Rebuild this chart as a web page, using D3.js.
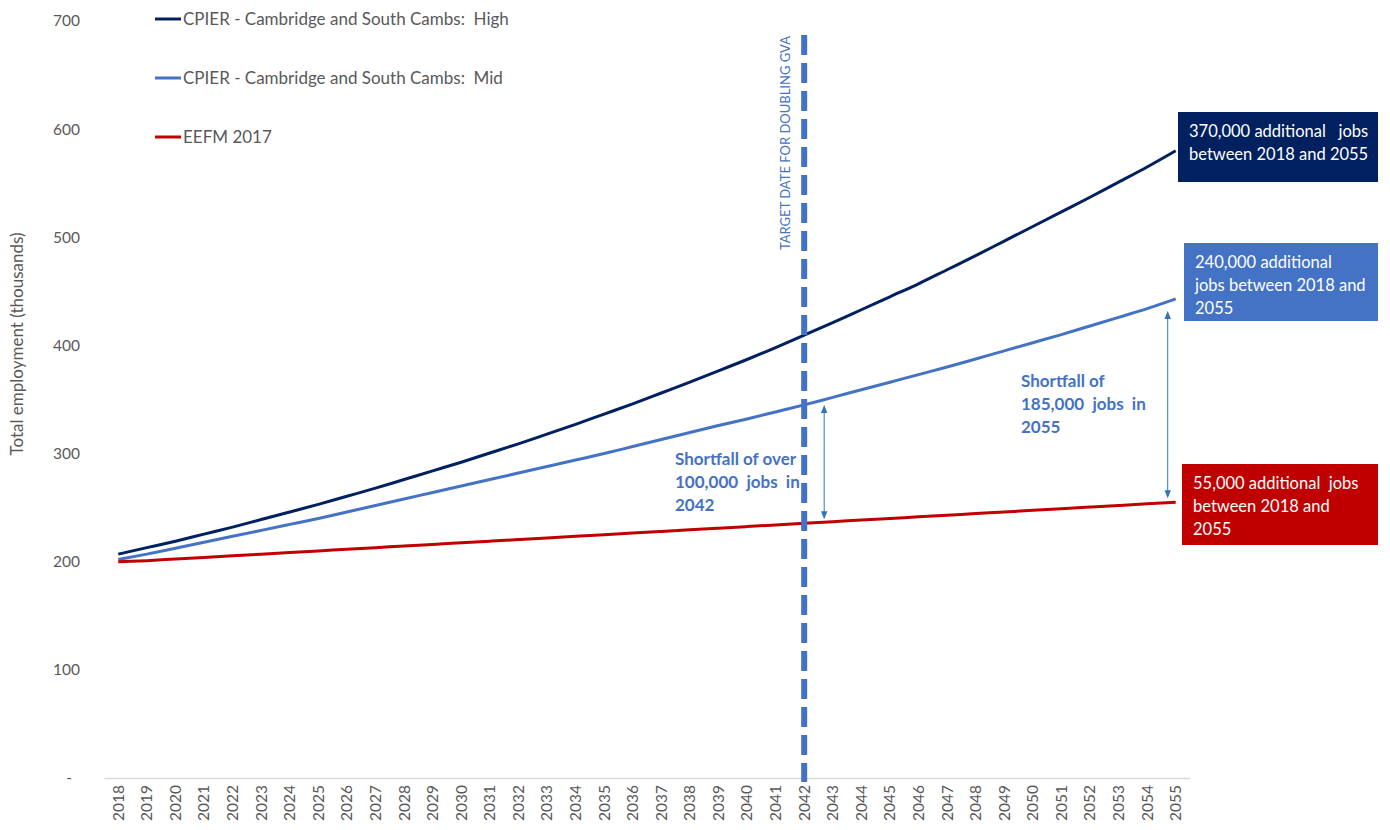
<!DOCTYPE html>
<html>
<head>
<meta charset="utf-8">
<script src="https://cdn.jsdelivr.net/npm/d3@7"></script>
<style>
  body { margin: 0; background: #fff; }
  svg { font-family: Lato, "Open Sans", sans-serif; }
</style>
</head>
<body>
<svg id="chart"></svg>
<script>
const years = d3.range(2018, 2056);
const highValues = [207, 213, 219, 225.5, 232, 239, 246, 253, 260.5, 268, 276, 284, 292, 300.5, 309, 318, 327, 336.5, 346, 356,
    366, 376.5, 387, 398, 409.5, 421, 433, 445, 457, 470, 483, 496.5, 510, 523.5, 537, 551, 565, 580];
const midValues = [202, 207, 212.5, 218, 223.5, 229, 234.5, 240, 246, 252, 258, 264, 270, 276, 282, 288, 294, 300, 306.5, 313,
    319.5, 326, 332, 338.5, 345, 352, 359, 366, 373, 380, 387.5, 395, 402.5, 410, 418, 426, 434, 443];
const eefmValues = [200, 201, 202.5, 204, 205.5, 207, 208.5, 210, 211.5, 213, 214.5, 216, 217.5, 219, 220.5, 222, 223.5, 225, 226.5, 228,
    229.5, 231, 232.5, 234, 235.5, 237, 238.5, 240, 241.5, 243, 244.5, 246, 247.5, 249, 250.5, 252, 253.5, 255];
const seriesNames = ['CPIER - Cambridge and South Cambs:  High', 'CPIER - Cambridge and South Cambs:  Mid', 'EEFM 2017'];
const yTicks = [0, 100, 200, 300, 400, 500, 600, 700];
const targetYear = 2042;
const boxTexts = [
    ['370,000 additional   jobs', 'between 2018 and 2055'],
    ['240,000 additional', 'jobs between 2018 and', '2055'],
    ['55,000 additional  jobs', 'between 2018 and', '2055']
];
const shortfallTexts = [
    ['Shortfall of over', '100,000  jobs  in', '2042'],
    ['Shortfall of', '185,000  jobs  in', '2055']
];

const colors = ['#002060', '#4472C4', '#C00000'];
const textGrey = '#595959';

const svg = d3.select('#chart')
    .attr('width', 1390)
    .attr('height', 830);

const x = d3.scaleBand().domain(years).range([104, 1190]);
const y = d3.scaleLinear().domain([0, 700]).range([778, 21]);
const cx = yr => x(yr) + x.bandwidth() / 2;

const defs = svg.append('defs');
defs.append('marker')
    .attr('id', 'arrowhead')
    .attr('viewBox', '0 0 10 10')
    .attr('refX', 5).attr('refY', 5)
    .attr('markerWidth', 8).attr('markerHeight', 8)
    .attr('orient', 'auto-start-reverse')
    .append('path')
    .attr('d', 'M0,1 L10,5 L0,9 Z')
    .attr('fill', '#2E75B6');

// y axis labels
svg.append('g')
    .selectAll('text')
    .data(yTicks)
    .enter().append('text')
    .attr('x', d => d === 0 ? 72 : 80)
    .attr('y', d => y(d))
    .attr('dy', '0.35em')
    .attr('text-anchor', 'end')
    .attr('font-size', 15.5)
    .attr('fill', textGrey)
    .text(d => d === 0 ? '-' : d);

svg.append('text')
    .text('Total employment (thousands)')
    .attr('transform', `translate(23, 344) rotate(-90)`)
    .attr('text-anchor', 'middle')
    .attr('font-size', 17)
    .attr('fill', textGrey);

// x axis
const xAxis = svg.append('g')
    .attr('transform', `translate(0, ${y(0)})`)
    .call(d3.axisBottom(x).tickSize(0).tickPadding(0));
xAxis.select('.domain').attr('stroke', '#d9d9d9').attr('stroke-width', 1.5);
xAxis.selectAll('text')
    .attr('transform', 'rotate(-90)')
    .attr('text-anchor', 'end')
    .attr('x', -7)
    .attr('y', 0)
    .attr('dy', '0.35em')
    .attr('font-size', 15.5)
    .attr('font-family', 'Lato, sans-serif')
    .attr('fill', textGrey);

// lines
const allSeries = [highValues, midValues, eefmValues];
const line = d3.line()
    .x((d, i) => cx(years[i]))
    .y(d => y(d))
    .curve(d3.curveMonotoneX);

svg.append('g')
    .selectAll('path')
    .data(allSeries)
    .enter().append('path')
    .attr('d', d => line(d))
    .attr('fill', 'none')
    .attr('stroke', (d, i) => colors[i])
    .attr('stroke-width', 3);

// target date dashed line
const tx = cx(targetYear);
svg.append('line')
    .attr('x1', tx).attr('x2', tx)
    .attr('y1', 35).attr('y2', y(0) + 4)
    .attr('stroke', '#4472C4')
    .attr('stroke-width', 6)
    .attr('stroke-dasharray', '20,8');

svg.append('text')
    .text('TARGET DATE FOR DOUBLING GVA')
    .attr('transform', `translate(${tx - 14}, 250) rotate(-90)`)
    .attr('font-size', 13)
    .attr('fill', '#4472C4');

// legend
const legend = svg.append('g')
    .selectAll('g')
    .data(seriesNames)
    .enter().append('g')
    .attr('transform', (d, i) => `translate(155, ${19 + i * 59})`);
legend.append('line')
    .attr('x1', 0).attr('x2', 26)
    .attr('stroke', (d, i) => colors[i])
    .attr('stroke-width', 3);
legend.append('text')
    .attr('x', 28)
    .attr('dy', '0.35em')
    .attr('font-size', 17)
    .attr('fill', textGrey)
    .style('white-space', 'pre')
    .text(d => d);

// shortfall arrows
const arrowYears = [targetYear, 2055];
const arrowOffsets = [20, -8];
arrowYears.forEach((yr, i) => {
    const k = years.indexOf(yr);
    const ax = cx(yr) + arrowOffsets[i];
    svg.append('line')
        .attr('x1', ax).attr('x2', ax)
        .attr('y1', y(midValues[k]) + 4 + (i === 1 ? 12 : 0))
        .attr('y2', y(eefmValues[k]) - 8)
        .attr('stroke', '#2E75B6')
        .attr('stroke-width', 1)
        .attr('marker-start', 'url(#arrowhead)')
        .attr('marker-end', 'url(#arrowhead)');
});

// shortfall texts
const shortfallPos = [[675, 459], [1021, 381]];
shortfallTexts.forEach((lines, i) => {
    const t = svg.append('text')
        .attr('x', shortfallPos[i][0])
        .attr('y', shortfallPos[i][1])
        .attr('font-size', 17)
        .attr('font-weight', 'bold')
        .attr('fill', '#4472C4')
        .style('white-space', 'pre');
    lines.forEach((l, j) => {
        t.append('tspan')
            .attr('x', shortfallPos[i][0])
            .attr('dy', j === 0 ? '0.35em' : 23)
            .text(l);
    });
});

// boxes
const boxes = [
    {x: 1178, y: 112, w: 200, h: 70},
    {x: 1184, y: 243, w: 194, h: 78},
    {x: 1182, y: 464, w: 196, h: 81}
];
boxes.forEach((b, i) => {
    svg.append('rect')
        .attr('x', b.x).attr('y', b.y)
        .attr('width', b.w).attr('height', b.h)
        .attr('fill', colors[i]);
    const t = svg.append('text')
        .attr('font-size', 16.5)
        .attr('fill', '#fff')
        .style('white-space', 'pre');
    boxTexts[i].forEach((l, j) => {
        t.append('tspan')
            .attr('x', b.x + 11)
            .attr('y', b.y + 19 + j * 23)
            .attr('dy', '0.35em')
            .text(l);
    });
});
</script>
</body>
</html>
